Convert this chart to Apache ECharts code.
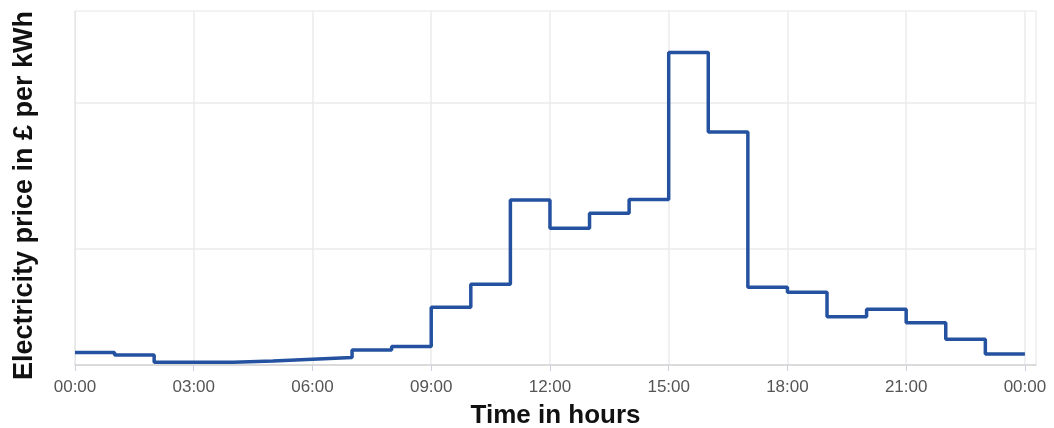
<!DOCTYPE html>
<html>
<head>
<meta charset="utf-8">
<script src="https://cdn.jsdelivr.net/npm/echarts@6/dist/echarts.min.js"></script>
<style>
  html, body { margin: 0; padding: 0; background: #fff; }
  #chart { width: 1054px; height: 428px; }
</style>
</head>
<body>
<div id="chart"></div>
<script>
// hour at which each price step starts
const hours = [0, 1, 2, 3, 4, 5, 6, 7, 8, 9, 10, 11, 12, 13, 14, 15, 16, 17, 18, 19, 20, 21, 22, 23]
// price in £ per kWh
const prices = [0.029, 0.0274, 0.0224, 0.0224, 0.0233, 0.0245, 0.0256, 0.0308, 0.0331, 0.0601,
  0.0758, 0.1336, 0.1142, 0.1245, 0.134, 0.2347, 0.1803, 0.0738, 0.0703, 0.0536,
  0.0587, 0.0495, 0.0382, 0.0281]
const xTicks = [0, 3, 6, 9, 12, 15, 18, 21, 24]
const yGrid = [0.1, 0.2]

const chart = echarts.init(document.getElementById('chart'))

const pad = (n) => (n < 10 ? '0' : '') + n
// step line: each value holds for one hour, last step closes at 24:00
const lineData = hours.map((h, i) => [h, prices[i]])
lineData.push([24, prices[prices.length - 1]])

const option = {
  animation: false,
  grid: {
    left: 75,
    right: 18,
    top: 11,
    bottom: 63,
    outerBoundsMode: 'none',
    show: true,
    borderColor: '#e6e6e6',
    borderWidth: 1,
  },
  xAxis: {
    type: 'value',
    min: 0,
    max: 24.28,
    name: 'Time in hours',
    nameLocation: 'middle',
    nameGap: 38,
    nameTextStyle: {
      fontFamily: 'Liberation Sans',
      fontWeight: 'bold',
      fontSize: 26,
      color: '#111',
    },
    axisLine: { show: true, lineStyle: { color: '#d4d4d4', width: 1.5 } },
    axisTick: {
      show: true,
      length: 6,
      customValues: xTicks,
      lineStyle: { color: '#c9d3e0' },
    },
    axisLabel: {
      customValues: xTicks,
      margin: 14,
      fontFamily: 'Liberation Sans',
      fontSize: 17,
      color: '#555',
      formatter: (v) => pad(v % 24) + ':00',
    },
    splitLine: { show: true, lineStyle: { color: '#ebebeb', width: 1.5 } },
  },
  yAxis: {
    type: 'value',
    min: 0.0205,
    max: 0.2632,
    name: 'Electricity price in £ per kWh',
    nameLocation: 'middle',
    nameGap: 37,
    nameTextStyle: {
      fontFamily: 'Liberation Sans',
      fontWeight: 'bold',
      fontSize: 27,
      color: '#111',
      padding: [0, 15, 0, 0],
    },
    axisLine: { show: true, lineStyle: { color: '#e6e6e6' } },
    axisTick: { show: false, customValues: yGrid },
    axisLabel: { show: false, customValues: yGrid },
    splitLine: { show: true, lineStyle: { color: '#ebebeb', width: 1.5 } },
  },
  series: [
    {
      type: 'line',
      step: 'end',
      data: lineData,
      symbol: 'none',
      lineStyle: { color: '#2552a0', width: 3.5 },
    },
  ],
}
chart.setOption(option)
</script>
</body>
</html>
